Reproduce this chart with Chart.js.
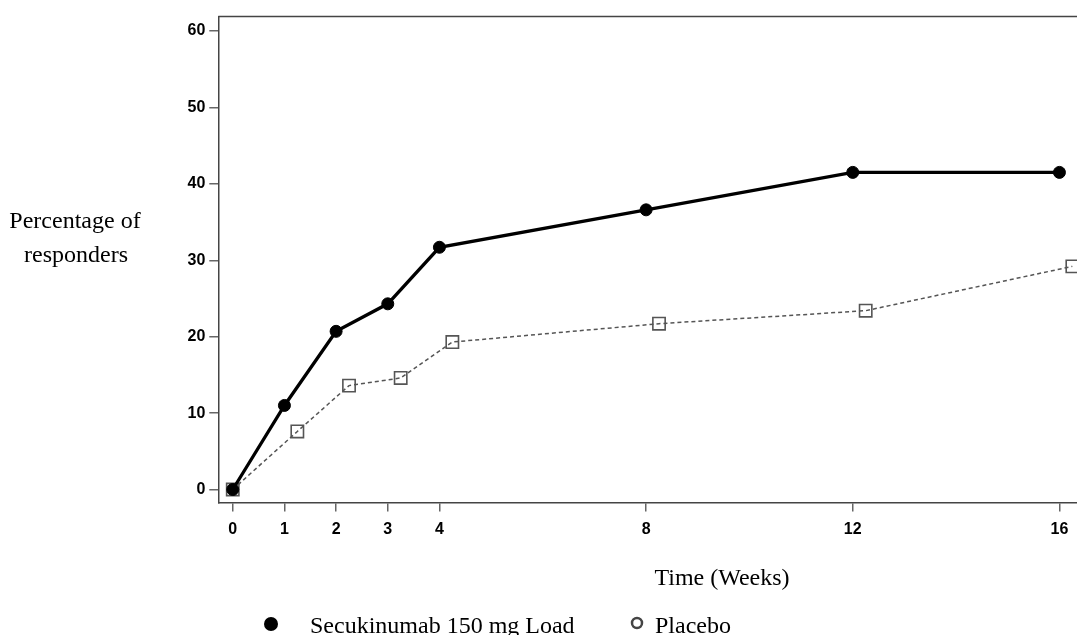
<!DOCTYPE html>
<html>
<head>
<meta charset="utf-8">
<script src="https://cdn.jsdelivr.net/npm/chart.js@4/dist/chart.umd.min.js"></script>
<style>
  html, body { margin: 0; padding: 0; background: #fff; }
  canvas { display: block; }
</style>
</head>
<body>
<canvas id="c" width="1077" height="635"></canvas>
<script>
// ---- data ----
const weeks = [0, 1, 2, 3, 4, 8, 12, 16];
const placeboWeeks = [0, 1.25, 2.25, 3.25, 4.25, 8.25, 12.25, 16.25];
const secukinumab = [0, 11.0, 20.7, 24.3, 31.7, 36.6, 41.5, 41.5];
const placebo = [0, 7.6, 13.6, 14.6, 19.3, 21.7, 23.4, 29.2];
const xTickValues = [0, 1, 2, 3, 4, 8, 12, 16];
const yTickValues = [0, 10, 20, 30, 40, 50, 60];
const seriesNames = ['Secukinumab 150 mg Load', 'Placebo'];
const yTitleLines = ['Percentage of', 'responders'];
const xTitle = 'Time (Weeks)';

const serif = "'Liberation Serif', 'Times New Roman', serif";

const textPlugin = {
  id: 'texts',
  afterDraw(chart) {
    const ctx = chart.ctx;
    const a = chart.chartArea;
    ctx.save();
    // top border
    ctx.strokeStyle = '#444';
    ctx.lineWidth = 1.5;
    ctx.beginPath();
    ctx.moveTo(a.left, a.top);
    ctx.lineTo(a.right, a.top);
    ctx.stroke();

    ctx.fillStyle = '#000';
    ctx.font = '24px ' + serif;
    ctx.textAlign = 'center';
    ctx.textBaseline = 'alphabetic';
    ctx.fillText(yTitleLines[0], 75, 228);
    ctx.fillText(yTitleLines[1], 76, 262);
    ctx.fillText(xTitle, 722, 585);

    // legend
    ctx.textAlign = 'left';
    ctx.beginPath();
    ctx.arc(271, 624, 7, 0, Math.PI * 2);
    ctx.fillStyle = '#000';
    ctx.fill();
    ctx.fillText(seriesNames[0], 310, 633);

    ctx.beginPath();
    ctx.arc(637, 623, 5, 0, Math.PI * 2);
    ctx.strokeStyle = '#444';
    ctx.lineWidth = 2.5;
    ctx.stroke();
    ctx.fillText(seriesNames[1], 655, 633);
    ctx.restore();
  }
};

const tickFont = { family: "'Liberation Sans', Arial, sans-serif", size: 16, weight: 'bold' };

new Chart(document.getElementById('c'), {
  type: 'line',
  data: {
    datasets: [
      {
        label: seriesNames[0],
        data: weeks.map((w, i) => ({ x: w, y: secukinumab[i] })),
        borderColor: '#000',
        borderWidth: 3.3,
        pointStyle: 'circle',
        pointRadius: 6,
        pointBorderWidth: 1,
        pointBackgroundColor: '#000',
        pointBorderColor: '#000',
        tension: 0,
        clip: false
      },
      {
        label: seriesNames[1],
        data: placeboWeeks.map((w, i) => ({ x: w, y: placebo[i] })),
        borderColor: '#555',
        borderWidth: 1.5,
        borderDash: [4, 3],
        pointStyle: 'rect',
        pointRadius: 8.7,
        pointBorderWidth: 1.6,
        pointBackgroundColor: 'rgba(0,0,0,0)',
        pointBorderColor: '#555',
        tension: 0,
        clip: false
      }
    ]
  },
  options: {
    responsive: false,
    animation: false,
    devicePixelRatio: 1,
    layout: { autoPadding: false, padding: { left: 0, right: 0, top: 16.5, bottom: 0 } },
    plugins: { legend: { display: false }, tooltip: { enabled: false } },
    scales: {
      x: {
        type: 'linear',
        min: -0.28,
        max: 16.34,
        afterBuildTicks(s) { s.ticks = xTickValues.map(v => ({ value: v })); },
        afterFit(s) { s.height = 132.5; s.paddingLeft = 0; s.paddingRight = 0; },
        grid: { display: true, drawOnChartArea: false, drawTicks: true, tickLength: 9, color: '#666', lineWidth: 1.5 },
        border: { display: true, color: '#444', width: 1.5 },
        ticks: { color: '#000', font: tickFont, padding: 8, maxRotation: 0, autoSkip: false }
      },
      y: {
        type: 'linear',
        min: -1.7,
        max: 61.9,
        afterBuildTicks(s) { s.ticks = yTickValues.map(v => ({ value: v })); },
        afterFit(s) { s.width = 218.3; s.paddingTop = 0; s.paddingBottom = 0; },
        grid: { display: true, drawOnChartArea: false, drawTicks: true, tickLength: 9, color: '#666', lineWidth: 1.5 },
        border: { display: true, color: '#444', width: 1.5 },
        ticks: { color: '#000', font: tickFont, padding: 4, autoSkip: false }
      }
    }
  },
  plugins: [textPlugin]
});
</script>
</body>
</html>
